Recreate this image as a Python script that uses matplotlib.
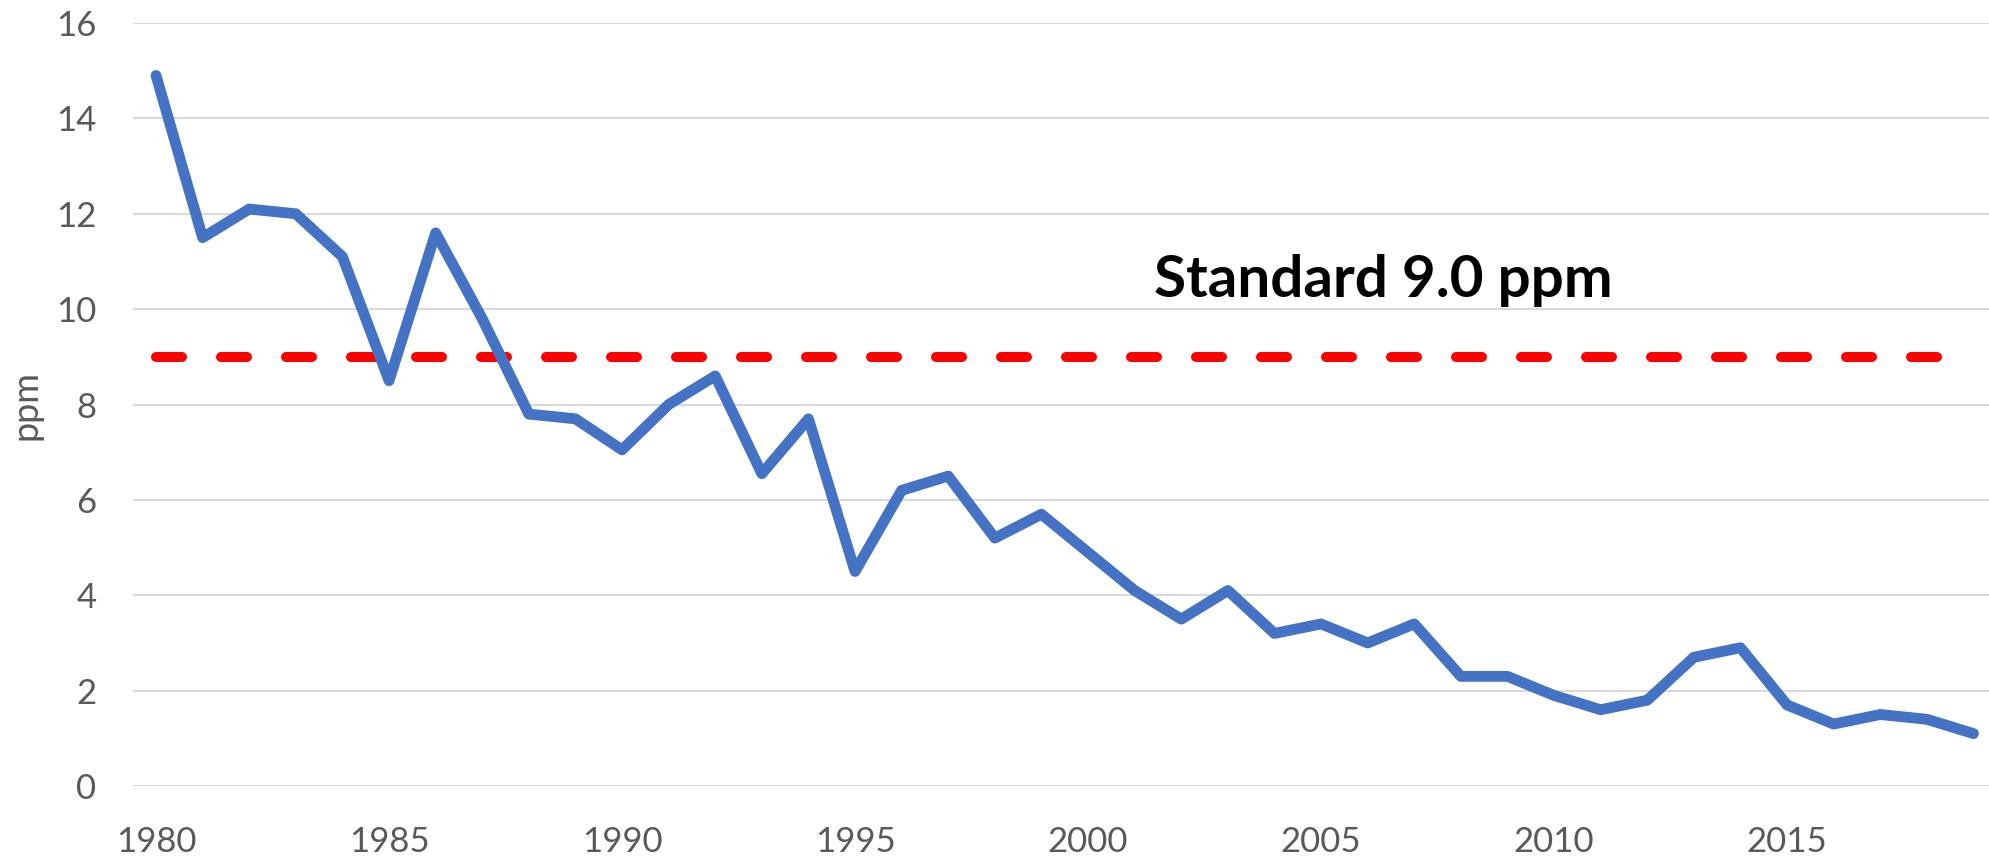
import matplotlib
matplotlib.use('Agg')
from matplotlib import pyplot as plt

# data
years = list(range(1980, 2020))
ppm = [14.9, 11.5, 12.1, 12.0, 11.1, 8.5, 11.6, 9.8, 7.8, 7.7,
       7.05, 8.0, 8.6, 6.55, 7.7, 4.5, 6.2, 6.5, 5.2, 5.7,
       4.9, 4.1, 3.5, 4.1, 3.2, 3.4, 3.0, 3.4, 2.3, 2.3,
       1.9, 1.6, 1.8, 2.7, 2.9, 1.7, 1.3, 1.5, 1.4, 1.1]
standard = 9.0
y_ticks = [0, 2, 4, 6, 8, 10, 12, 14, 16]
x_ticks = [1980, 1985, 1990, 1995, 2000, 2005, 2010, 2015]

plt.rcParams['font.family'] = ['Lato', 'DejaVu Sans']

fig = plt.figure(figsize=(19.9, 8.6), dpi=100)
ax = fig.add_axes([0.0667, 0.086, 0.9367, 0.8872])

# standard line
ax.plot([years[0], years[-1]], [standard, standard], color='#FF0000', lw=7.2,
        dashes=(2.6, 3.9), dash_capstyle='round', zorder=2)
# measured values
ax.plot(years, ppm, color='#4472C4', lw=7.8, solid_joinstyle='round',
        solid_capstyle='round', zorder=3)

ax.text(2006.33, 10.25, 'Standard 9.0 ppm', fontsize=42, fontweight='bold',
        color='black', ha='center', va='baseline')

ax.set_xlim(1979.5, 2019.5)
ax.set_ylim(0, 16)
ax.set_yticks(y_ticks)
ax.set_xticks(x_ticks)
ax.grid(axis='y', color='#D9D9D9', lw=1.5)
ax.set_axisbelow(True)
for s in ax.spines.values():
    s.set_visible(False)
ax.tick_params(axis='both', length=0, colors='#595959', labelsize=25)
ax.tick_params(axis='y', pad=26)
ax.tick_params(axis='x', pad=29)
ax.set_ylabel('ppm', fontsize=26, color='#595959', labelpad=10)

plt.savefig('out.png', dpi=100)
